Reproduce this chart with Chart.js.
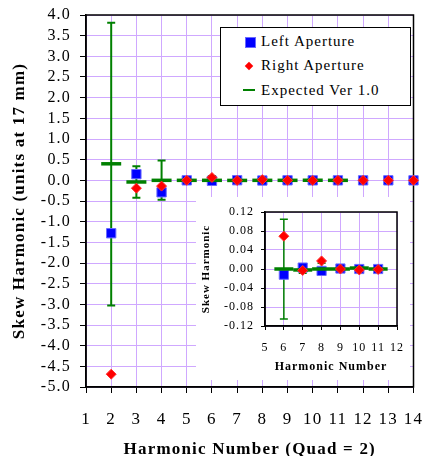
<!DOCTYPE html>
<html lang="en">
<head>
<meta charset="UTF-8">
<title>Skew Harmonic</title>
<script src="https://cdn.jsdelivr.net/npm/chart.js"></script>
<style>
    body { margin: 0; background: #fff; }
    .wrap { position: relative; width: 427px; height: 456px; }
    #mainChart { position: absolute; left: 0; top: 0; }
    #insetChart { position: absolute; left: 196px; top: 197px; background: #fff; }
    .legend {
        position: absolute; left: 220px; top: 27px; width: 189px; height: 77px;
        border: 1.5px solid #000; background: #fff;
        font-family: 'Liberation Serif', serif; font-size: 15px; letter-spacing: 1px; color: #000;
    }
    .legend .mark { position: absolute; }
    .legend .txt { position: absolute; left: 40px; line-height: 18px; white-space: nowrap; }
    .sq { left: 24px; width: 9px; height: 9px; background: #0000ff; border: 0.5px solid #6a6aff; }
    .dm { left: 25px; width: 6px; height: 6px; background: #ff0000; transform: rotate(45deg); }
    .ln { left: 22px; width: 12px; height: 2px; background: #008000; }
</style>
</head>
<body>
<div class="wrap">
    <canvas id="mainChart" width="427" height="456"></canvas>
    <div class="legend">
        <div class="mark sq" style="top:9px"></div><div class="txt" style="top:4px">Left Aperture</div>
        <div class="mark dm" style="top:35px"></div><div class="txt" style="top:28px">Right Aperture</div>
        <div class="mark ln" style="top:61px"></div><div class="txt" style="top:53px">Expected Ver 1.0</div>
    </div>
    <canvas id="insetChart" width="214" height="183"></canvas>
</div>
<script>
    // harmonic numbers and measured skew values
    const harmonics = [2, 3, 4, 5, 6, 7, 8, 9, 10, 11, 12, 13, 14];
    const leftAperture = [-1.28, 0.15, -0.29, 0.0, -0.012, 0.003, -0.004, 0.001, 0.0, 0.0, 0.0, 0.0, 0.0];
    const rightAperture = [-4.69, -0.19, -0.14, 0.0, 0.069, -0.003, 0.017, 0.0, -0.002, -0.001, 0.0, 0.0, 0.0];

    // expected values with their error range
    const expectedHarmonics = [2, 3, 4, 5, 6, 7, 8, 9, 10, 11];
    const expectedMean = [0.40, -0.04, 0.0, 0.0, 0.0, -0.002, 0.0, 0.0, 0.002, 0.0];
    const expectedLow = [-3.03, -0.42, -0.47, -0.01, -0.105, -0.009, -0.013, -0.003, -0.002, -0.003];
    const expectedHigh = [3.81, 0.34, 0.48, 0.01, 0.105, 0.006, 0.012, 0.003, 0.006, 0.003];

    const insetHarmonics = [6, 7, 8, 9, 10, 11];

    const serif = "'Liberation Serif', serif";
    const gridColor = '#cfa8ff';
    Chart.defaults.color = '#000';

    function pts(xs, ys, keep) {
        return xs.map((h, i) => ({ x: h, y: ys[i] })).filter(p => !keep || keep.includes(p.x));
    }

    function spacing(px) {
        return {
            id: 'spacing',
            beforeUpdate(c) { c.ctx.letterSpacing = px; },
            beforeDraw(c) { c.ctx.letterSpacing = px; }
        };
    }

    const frame = {
        id: 'frame',
        beforeDatasetsDraw(chart) {
            const { ctx, chartArea: a } = chart;
            ctx.save();
            ctx.strokeStyle = '#000';
            ctx.lineWidth = 1.5;
            ctx.strokeRect(a.left, a.top, a.right - a.left, a.bottom - a.top);
            ctx.restore();
        }
    };

    const errorBars = {
        id: 'errorBars',
        beforeDatasetsDraw(chart, args, opts) {
            const { ctx, scales: { x, y } } = chart;
            ctx.save();
            ctx.strokeStyle = '#008000';
            ctx.lineWidth = opts.width;
            expectedHarmonics.forEach((h, i) => {
                if (h < x.min || h > x.max || !opts.keep.includes(h)) return;
                const px = x.getPixelForValue(h);
                const lo = y.getPixelForValue(expectedLow[i]);
                const hi = y.getPixelForValue(expectedHigh[i]);
                ctx.beginPath();
                ctx.moveTo(px, lo); ctx.lineTo(px, hi);
                ctx.moveTo(px - opts.cap, lo); ctx.lineTo(px + opts.cap, lo);
                ctx.moveTo(px - opts.cap, hi); ctx.lineTo(px + opts.cap, hi);
                ctx.stroke();
            });
            ctx.restore();
        }
    };

    function datasets(keep, sq, dm, dash, dashW) {
        return [{
            label: 'Right Aperture',
            data: pts(harmonics, rightAperture, keep),
            pointStyle: 'rectRot', pointRadius: dm,
            backgroundColor: '#ff0000', borderColor: '#ff3030', borderWidth: 1,
            showLine: false, clip: false, order: 0
        }, {
            label: 'Expected Ver 1.0',
            data: pts(expectedHarmonics, expectedMean, keep),
            pointStyle: 'line', pointRadius: dash,
            borderColor: '#008000', backgroundColor: '#008000', pointBorderWidth: dashW,
            showLine: false, clip: false, order: 1
        }, {
            label: 'Left Aperture',
            data: pts(harmonics, leftAperture, keep),
            pointStyle: 'rect', pointRadius: sq,
            backgroundColor: '#0000ff', borderColor: '#6a6aff', borderWidth: 1,
            showLine: false, clip: false, order: 2
        }];
    }

    // keep the plot area where the layout padding puts it
    function fitX(h) {
        return s => { s.height = h; s.paddingLeft = 0; s.paddingRight = 0; };
    }
    function fitY(w) {
        return s => { s.width = w; s.paddingTop = 0; s.paddingBottom = 0; };
    }

    new Chart(document.getElementById('mainChart'), {
        type: 'scatter',
        data: { datasets: datasets(null, 6.6, 5, 10, 3.5) },
        options: {
            responsive: false,
            animation: false,
            devicePixelRatio: 1,
            layout: { padding: { left: 0, top: 15, right: 12, bottom: 0 } },
            plugins: {
                legend: { display: false },
                tooltip: { enabled: false },
                errorBars: { width: 2, cap: 4, keep: expectedHarmonics }
            },
            scales: {
                x: {
                    type: 'linear', min: 1, max: 14,
                    afterFit: fitX(69),
                    ticks: {
                        stepSize: 1, padding: 16, autoSkip: false, maxRotation: 0, minRotation: 0,
                        font: { family: serif, size: 17 }
                    },
                    grid: { color: gridColor, tickColor: '#000', tickLength: 6 },
                    border: { color: '#000', width: 1.5 },
                    title: {
                        display: true, text: 'Harmonic Number (Quad = 2)',
                        font: { family: serif, size: 17, weight: 'bold', lineHeight: 0.8 },
                        padding: { top: 0, bottom: 0 }
                    }
                },
                y: {
                    min: -5, max: 4,
                    afterFit: fitY(86),
                    ticks: {
                        stepSize: 0.5, padding: 9, autoSkip: false,
                        font: { family: serif, size: 16 },
                        callback: v => v.toFixed(1)
                    },
                    grid: { color: gridColor, tickColor: '#000', tickLength: 6 },
                    border: { color: '#000', width: 1.5 },
                    title: {
                        display: true, text: 'Skew Harmonic (units at 17 mm)',
                        font: { family: serif, size: 17, weight: 'bold', lineHeight: 1 },
                        padding: { top: 11, bottom: 0 }
                    }
                }
            }
        },
        plugins: [spacing('1.2px'), frame, errorBars]
    });

    new Chart(document.getElementById('insetChart'), {
        type: 'scatter',
        data: { datasets: datasets(insetHarmonics, 6.5, 5, 9.5, 3.5) },
        options: {
            responsive: false,
            animation: false,
            devicePixelRatio: 1,
            layout: { padding: { left: 0, top: 15, right: 12, bottom: 0 } },
            plugins: {
                legend: { display: false },
                tooltip: { enabled: false },
                errorBars: { width: 1.5, cap: 4, keep: insetHarmonics }
            },
            scales: {
                x: {
                    type: 'linear', min: 5, max: 12,
                    afterFit: fitX(54),
                    ticks: {
                        stepSize: 1, padding: 11, autoSkip: false, maxRotation: 0, minRotation: 0,
                        font: { family: serif, size: 12 }
                    },
                    grid: { color: gridColor, tickColor: '#000', tickLength: 4 },
                    border: { color: '#000', width: 1.5 },
                    title: {
                        display: true, text: 'Harmonic Number',
                        font: { family: serif, size: 12, weight: 'bold', lineHeight: 1 },
                        padding: { top: 0, bottom: 7 }
                    }
                },
                y: {
                    min: -0.12, max: 0.12,
                    afterFit: fitY(69),
                    ticks: {
                        stepSize: 0.04, padding: 7, autoSkip: false,
                        font: { family: serif, size: 12 },
                        callback: v => v.toFixed(2)
                    },
                    grid: { color: gridColor, tickColor: '#000', tickLength: 4 },
                    border: { color: '#000', width: 1.5 },
                    title: {
                        display: true, text: 'Skew Harmonic',
                        font: { family: serif, size: 11, weight: 'bold', lineHeight: 1 },
                        padding: { top: 5, bottom: 0 }
                    }
                }
            }
        },
        plugins: [spacing('1px'), frame, errorBars]
    });
</script>
</body>
</html>
